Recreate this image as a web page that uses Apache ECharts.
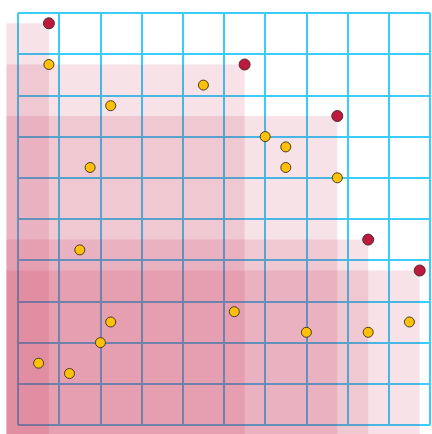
<!DOCTYPE html>
<html>
<head>
<meta charset="utf-8">
<script src="https://cdn.jsdelivr.net/npm/echarts@6/dist/echarts.min.js"></script>
<style>
html,body{margin:0;padding:0;background:#fff;}
#chart{width:432px;height:434px;}
</style>
</head>
<body>
<div id="chart"></div>
<script>
// Pareto-front points (crimson)
const frontX = [0.75, 5.5, 7.75, 8.5, 9.75];
const frontY = [9.75, 8.75, 7.5, 4.5, 3.75];
// Other points (yellow)
const otherX = [0.75, 2.25, 4.5, 6, 6.5, 6.5, 1.75, 7.75, 1.5, 5.25, 2.25, 7, 8.5, 9.5, 2, 0.5, 1.25];
const otherY = [8.75, 7.75, 8.25, 7, 6.75, 6.25, 6.25, 6, 4.25, 2.75, 2.5, 2.25, 2.25, 2.5, 2, 1.5, 1.25];
// Axis extents
const axisMin = 0, axisMax = 10, axisStep = 1;
// Dominated-region origin (lower-left corner of the shaded boxes, in data units)
const regionOrigin = [-0.28, -0.3];

const frontData = frontX.map((x, i) => [x, frontY[i]]);
const otherData = otherX.map((x, i) => [x, otherY[i]]);

const chart = echarts.init(document.getElementById('chart'), null, {renderer: 'canvas'});

const axisCommon = {
  type: 'value',
  min: axisMin, max: axisMax, interval: axisStep,
  axisLine: {show: false},
  axisTick: {show: false},
  axisLabel: {show: false},
  splitLine: {show: true, lineStyle: {color: '#3acdfb', width: 2}}
};

chart.setOption({
  animation: false,
  grid: {left: 18, right: 2, top: 13, bottom: 9, containLabel: false},
  xAxis: Object.assign({}, axisCommon),
  yAxis: Object.assign({}, axisCommon),
  series: [
    {
      type: 'custom',
      clip: false,
      z: 1,
      data: frontData,
      renderItem: function (params, api) {
        const p = api.coord([api.value(0), api.value(1)]);
        const o = api.coord(regionOrigin);
        return {
          type: 'rect',
          shape: {x: o[0], y: p[1], width: p[0] - o[0], height: o[1] - p[1]},
          style: {fill: 'rgba(190,25,60,0.125)', stroke: null}
        };
      }
    },
    {
      type: 'scatter',
      z: 3,
      symbolSize: 10,
      data: otherData,
      itemStyle: {color: '#ffc107', borderColor: '#4a3a20', borderWidth: 1, opacity: 1}
    },
    {
      type: 'scatter',
      z: 4,
      symbolSize: 11,
      data: frontData,
      itemStyle: {color: '#be1a3e', borderColor: '#4a2a2a', borderWidth: 1, opacity: 1}
    }
  ]
});
</script>
</body>
</html>
